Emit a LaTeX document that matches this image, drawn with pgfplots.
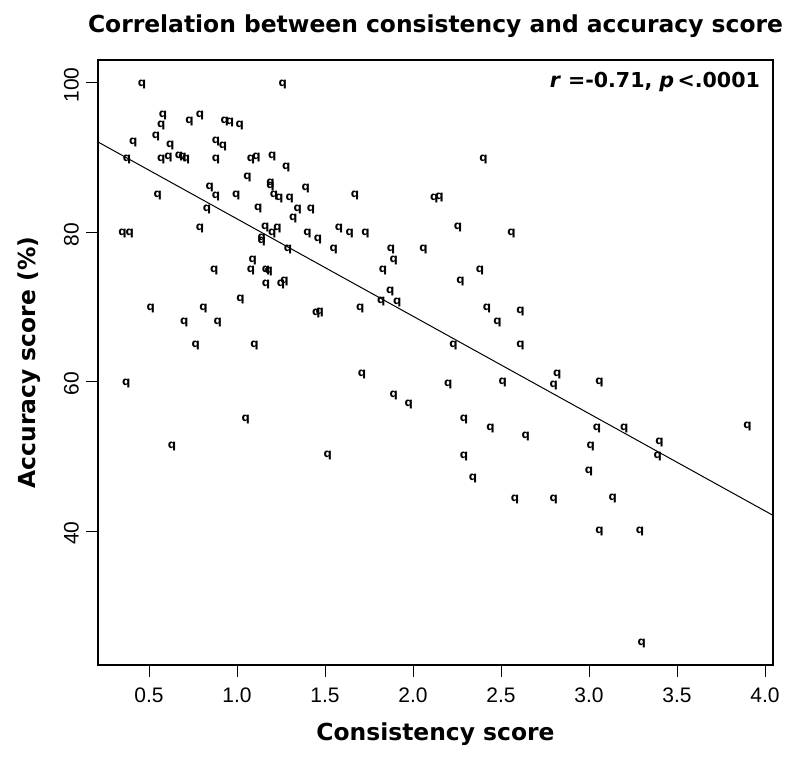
\documentclass[border=0pt]{standalone}
\usepackage{fontspec}
\setmainfont{DejaVu Sans}
\newfontfamily\tickfont{Liberation Sans}
\usepackage{pgfplots}
\usepackage{pgfplotstable}
\pgfplotsset{compat=1.18}
\pgfplotstableread{
x y
0.46 99.8
1.26 99.8
0.58 95.6
0.79 95.6
0.57 94.3
0.73 94.8
0.93 94.8
0.96 94.7
1.015 94.3
0.54 92.9
0.41 92.1
0.62 91.6
0.88 92.2
0.92 91.5
0.375 89.8
0.57 89.8
0.61 90.0
0.67 90.2
0.69 90.0
0.71 89.8
0.88 89.8
1.08 89.8
1.11 90.0
1.20 90.2
1.28 88.7
1.06 87.3
1.19 86.6
1.19 86.1
1.21 85.0
1.24 84.5
1.30 84.5
1.39 85.9
0.845 86.0
0.88 84.8
0.996 84.9
0.55 84.9
0.83 83.1
1.12 83.2
1.345 83.1
1.42 83.1
1.32 81.8
0.35 79.9
0.39 79.9
0.79 80.5
1.16 80.7
1.23 80.5
1.20 79.9
1.14 79.2
1.14 78.8
1.29 77.7
1.40 79.9
1.46 79.1
1.55 77.7
1.58 80.5
2.40 89.8
1.67 84.9
2.12 84.5
2.15 84.7
2.255 80.6
1.64 79.8
1.73 79.8
2.56 79.8
1.875 77.7
2.06 77.7
1.09 76.2
0.87 74.9
1.08 74.9
1.165 74.9
1.18 74.7
1.165 73.0
1.25 73.0
1.27 73.4
1.02 71.0
0.51 69.8
0.81 69.8
1.45 69.2
1.47 69.3
0.70 67.9
0.89 67.9
0.765 64.8
1.10 64.8
0.37 59.8
1.05 54.9
0.63 51.3
1.89 76.2
1.83 74.9
2.38 74.9
2.27 73.4
1.87 72.1
1.82 70.7
1.91 70.6
1.70 69.8
2.42 69.8
2.48 67.9
2.61 69.4
2.23 64.9
2.61 64.9
1.71 61.0
2.20 59.6
2.51 59.9
1.89 58.2
1.975 56.9
2.29 54.9
2.44 53.7
2.64 52.7
1.515 50.1
2.29 50.0
2.82 61.0
2.80 59.5
3.06 59.9
3.045 53.8
3.20 53.8
3.01 51.3
3.40 51.9
3.39 50.0
3.90 54.0
2.34 47.1
2.58 44.2
2.80 44.2
3.135 44.3
3.00 48.0
3.06 39.9
3.29 39.9
3.30 24.9
}\datatable
\pgfplotstableread{
x y
0.21 92.1
4.045 42.1
}\fitline
\begin{document}
\begin{tikzpicture}
\begin{axis}[name=ax, scale only axis, width=337.5pt, height=302.5pt,
  xmin=0.21, xmax=4.045, ymin=22.06, ymax=103.08,
  xtick={0.5,1,1.5,2,2.5,3,3.5,4},
  xticklabels={0.5,1.0,1.5,2.0,2.5,3.0,3.5,4.0},
  ytick={40,60,80,100},
  tick align=outside, major tick length=6pt,
  xtick pos=bottom, ytick pos=left,
  tick style={line width=0.5pt, black},
  axis line style={line width=0.75pt},
  /pgf/number format/assume math mode=true,
  ticklabel style={font=\fontsize{10.5}{12}\tickfont},
  xticklabel style={yshift=-2pt},
  yticklabel style={rotate=90, anchor=south, xshift=-1pt},
  title={Correlation between consistency and accuracy score},
  title style={font=\fontsize{11.7}{14}\selectfont\bfseries, at={(axis description cs:0.5,1.0264)}, anchor=base},
  xlabel={Consistency score},
  xlabel style={font=\fontsize{11.7}{14}\selectfont\bfseries, at={(axis description cs:0.5,-0.1256)}, anchor=base},
  ylabel={Accuracy score (\%)},
  ylabel style={font=\fontsize{11.7}{14}\selectfont\bfseries, at={(axis description cs:-0.0933,0.5)}, rotate=0, anchor=base},
]
\addplot[only marks, mark=text, text mark={q}, text mark as node=true, mark options={black},
  text mark style={font=\fontsize{5.8}{6}\selectfont\bfseries, inner sep=0pt, anchor=center}] table {\datatable};
\addplot[black, line width=0.5pt, no marks] table {\fitline};
\node[anchor=base east, xshift=-3pt, yshift=-14pt, font=\fontsize{10.3}{12}\selectfont\bfseries] at (rel axis cs:1,1) {\textit{r}\,\,=-0.71,\,\,\textit{p}\,<.0001};
\end{axis}
\pgfresetboundingbox
\path ([shift={(-49pt,-47.5pt)}]ax.south west) rectangle ([shift={(13.5pt,30pt)}]ax.north east);
\end{tikzpicture}
\end{document}
